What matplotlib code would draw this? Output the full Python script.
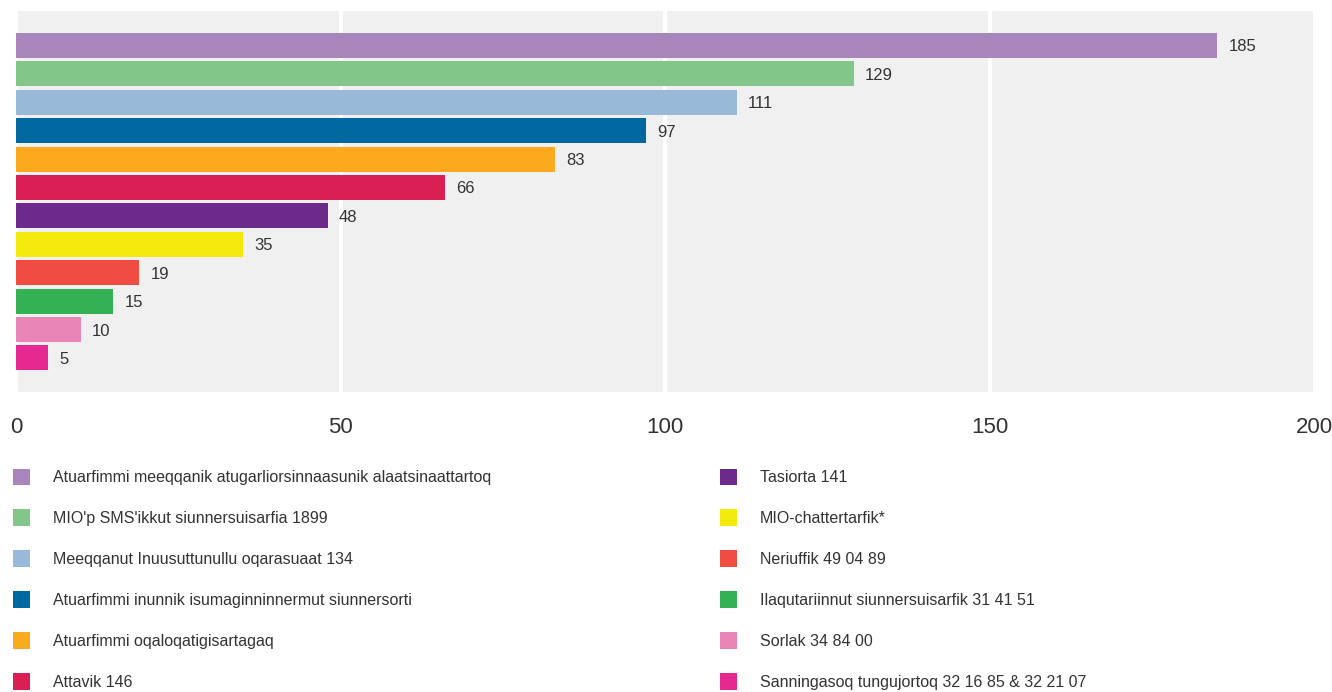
import matplotlib
matplotlib.use('Agg')
import matplotlib.pyplot as plt

plt.rcParams['font.family'] = ['Liberation Sans Narrow', 'Liberation Sans', 'DejaVu Sans']

# data
labels = [
    'Atuarfimmi meeqqanik atugarliorsinnaasunik alaatsinaattartoq',
    "MIO'p SMS'ikkut siunnersuisarfia 1899",
    'Meeqqanut Inuusuttunullu oqarasuaat 134',
    'Atuarfimmi inunnik isumaginninnermut siunnersorti',
    'Atuarfimmi oqaloqatigisartagaq',
    'Attavik 146',
    'Tasiorta 141',
    'MIO-chattertarfik*',
    'Neriuffik 49 04 89',
    'Ilaqutariinnut siunnersuisarfik 31 41 51',
    'Sorlak 34 84 00',
    'Sanningasoq tungujortoq 32 16 85 & 32 21 07',
]
values = [185, 129, 111, 97, 83, 66, 48, 35, 19, 15, 10, 5]
colors = ['#a886bc', '#83c68a', '#98b9d8', '#0068a1', '#fbaa1e', '#da1f55',
          '#6d2a8a', '#f4eb0c', '#f04c41', '#35b155', '#e985b7', '#e52991']
xticks = [0, 50, 100, 150, 200]

txt = '#333333'

fig = plt.figure(figsize=(13.32, 6.92), dpi=100)
ax = fig.add_axes([0.012, 0.4335, 0.975, 0.5505])
ax.set_facecolor('#f0f0f0')

ypos = list(range(len(values)))
bars = ax.barh(ypos, values, height=0.88, color=colors, edgecolor='none', zorder=3)

# value labels at the bar ends
vlabels = ax.bar_label(bars, labels=[str(v) for v in values], padding=8,
                       fontsize=12, color=txt)
for t in vlabels:
    t.set_va('center_baseline')

ax.set_xlim(0, 200)
ax.set_ylim(len(values) - 1 + 1.2, -1.21)
ax.set_xticks(xticks)
ax.set_yticks([])
ax.tick_params(axis='x', length=0, pad=18, labelsize=16, labelcolor=txt)
ax.xaxis.grid(True, color='white', linewidth=3, zorder=1)
ax.set_axisbelow(True)
for s in ax.spines.values():
    s.set_visible(False)

# legend in two columns
handles = list(bars)
kw = dict(frameon=False, fontsize=11.5, labelcolor=txt, handlelength=1.06,
          handleheight=1.06, handletextpad=1.44, labelspacing=1.56,
          borderpad=0, borderaxespad=0, loc='upper left')
leg1 = fig.legend(handles[:6], labels[:6], bbox_to_anchor=(0.0095, 0.3215), **kw)
leg2 = fig.legend(handles[6:], labels[6:], bbox_to_anchor=(0.5405, 0.3215), **kw)
for leg in (leg1, leg2):
    for h in leg.legend_handles:
        c = h.get_y() + h.get_height() / 2
        h.set_height(12.2)
        h.set_y(c - 6.1)

fig.savefig('out.png', dpi=100, facecolor='white')
